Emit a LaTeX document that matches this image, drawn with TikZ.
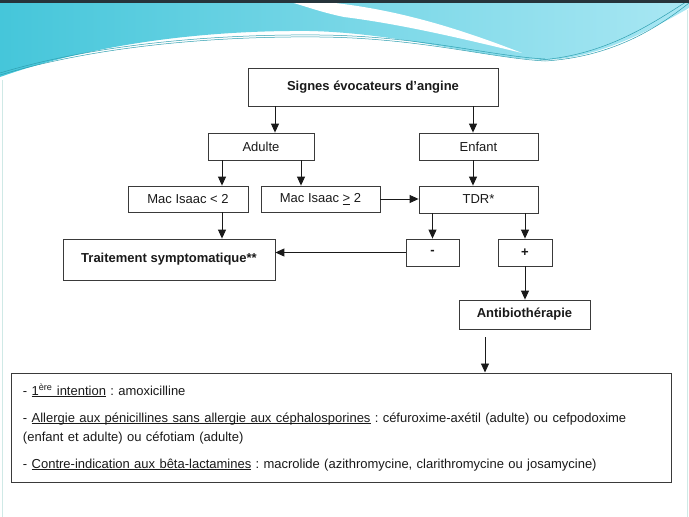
\documentclass[tikz,border=0pt]{standalone}
\usepackage{fontspec}
\setmainfont{Liberation Sans}
\usetikzlibrary{arrows.meta,positioning,calc}
\definecolor{ink}{HTML}{1A1A1A}
\definecolor{frame}{HTML}{3A3A3A}
\definecolor{wavedark}{HTML}{45C6DA}
\definecolor{wavelight}{HTML}{A9E7F3}
\definecolor{waveline}{HTML}{2E9FB0}
\definecolor{topbar}{HTML}{26343B}
\definecolor{edge}{HTML}{CFE9E6}
\newcommand\lineunder[1]{\setbox0\hbox{#1}\rlap{\rule[-1.6pt]{\wd0}{0.6pt}}\box0\relax}
\tikzset{
  card/.style={draw=frame,fill=white,line width=0.8pt,align=center,
               inner sep=2pt,text=ink,font=\fontsize{13}{15}\selectfont},
  boldcard/.style={card,font=\fontsize{13}{15}\selectfont\bfseries},
  notecard/.style={draw=frame,fill=white,line width=1pt,align=left,
                   inner xsep=12pt,text=ink,font=\fontsize{13}{19}\selectfont},
  arr/.style={-{Triangle[length=9pt,width=8pt]},line width=0.9pt,draw=ink},
  waveedge/.style={draw=waveline,line width=0.5pt}
}

\begin{document}
\frenchspacing
\begin{tikzpicture}[x=1pt,y=-1pt]
    \path[use as bounding box] (0,0) rectangle (689,517);
    \fill[white] (0,0) rectangle (689,517);

    % header wave
    \shade[left color=wavedark,right color=wavelight] (0,77)
      .. controls (90,45) and (200,30) .. (310,31)
      .. controls (400,33) and (480,58) .. (545,60)
      .. controls (600,58) and (650,30) .. (689,8) -- (689,0) -- (0,0) -- cycle;
    \fill[white] (298,0) .. controls (380,4) and (450,25) .. (522,53)
      .. controls (460,38) and (400,24) .. (344,17)
      .. controls (320,12) and (305,6) .. (290,2) -- cycle;
    \draw[waveedge] (0,75) .. controls (100,45) and (220,36) .. (320,37)
      .. controls (420,38) and (490,58) .. (545,61);
    \draw[waveedge] (0,73) .. controls (100,43) and (220,34) .. (320,35)
      .. controls (420,36) and (490,56) .. (545,59);
    \draw[waveedge] (545,61) .. controls (610,57) and (655,30) .. (689,3);
    \draw[waveedge] (540,60) .. controls (605,55) and (650,25) .. (689,0);
    \fill[topbar] (0,0) rectangle (689,3);
    \draw[edge,line width=1pt] (2,80) -- (2,517);
    \draw[edge,line width=1pt] (687,10) -- (687,517);

    \coordinate (colA) at (275,0);
    \coordinate (colB) at (473,0);
    \coordinate (colC) at (222,0);
    \coordinate (colD) at (301,0);
    \coordinate (abx) at (485,337);

    \node[boldcard,minimum width=250pt,minimum height=38pt] (signes) at (373,87)
      {Signes évocateurs d'angine};
    \node[card,minimum width=106pt,minimum height=27pt] (adulte) at (261,146.5) {Adulte};
    \node[card,minimum width=119pt,minimum height=27pt] (enfant) at (478.5,146.5) {Enfant};
    \node[card,minimum width=120pt,minimum height=26pt] (macinf) at (188,199) {Mac Isaac < 2};
    \node[card,minimum width=119pt,minimum height=26pt] (macsup) at (320.5,199)
      {Mac Isaac \lineunder{>} 2};
    \node[card,minimum width=119pt,minimum height=27pt] (tdr) at (478.5,199.5) {TDR*};
    \node[boldcard,minimum width=212pt,minimum height=41pt] (trait) at (169,259.5)
      {Traitement symptomatique**};
    \node[boldcard,minimum width=53pt,minimum height=27pt] (neg) at (432.5,252.5) {-};
    \node[boldcard,minimum width=54pt,minimum height=27pt] (pos) at (525,252.5) {+};
    \node[boldcard,minimum width=131pt,minimum height=29pt] (atb) at (524.5,314.5)
      {Antibiothérapie};

    \node[notecard,minimum width=660pt,minimum height=109pt,text width=636pt] (reco)
      at (341,427.5)
      {- \lineunder{1\textsuperscript{ère} intention} : amoxicilline\\[8pt]
       - \lineunder{Allergie aux pénicillines sans allergie aux céphalosporines} :
       céfuroxime-axétil (adulte) ou cefpodoxime\\
       (enfant et adulte) ou céfotiam (adulte)\\[8pt]
       - \lineunder{Contre-indication aux bêta-lactamines} : macrolide
       (azithromycine, clarithromycine ou josamycine)};

    \draw[arr] (signes.south -| colA) -- (adulte.north -| colA);
    \draw[arr] (signes.south -| colB) -- (enfant.north -| colB);
    \draw[arr] (adulte.south -| colC) -- (macinf.north -| colC);
    \draw[arr] (adulte.south -| colD) -- (macsup.north -| colD);
    \draw[arr] (enfant.south -| colB) -- (tdr.north -| colB);
    \draw[arr] (macsup.east) -- (tdr.west |- macsup.east);
    \draw[arr] (macinf.south -| colC) -- (trait.north -| colC);
    \draw[arr] (tdr.south -| neg.north) -- (neg.north);
    \draw[arr] (tdr.south -| pos.north) -- (pos.north);
    \draw[arr] (neg.west) -- (trait.east |- neg.west);
    \draw[arr] (pos.south) -- (atb.north -| pos.south);
    \draw[arr] (abx) -- (abx |- reco.north);
  \end{tikzpicture}
\end{document}
